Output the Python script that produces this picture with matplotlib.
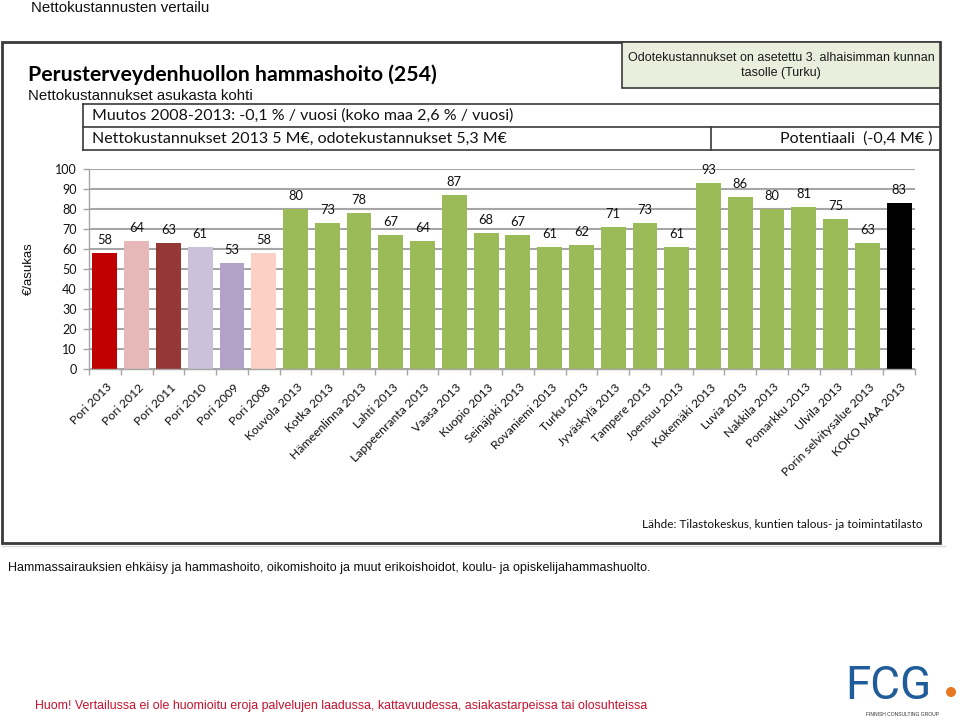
import matplotlib
matplotlib.use("Agg")
import matplotlib.pyplot as plt
from matplotlib.patches import Rectangle, Circle
from matplotlib.lines import Line2D

categories = ["Pori 2013", "Pori 2012", "Pori 2011", "Pori 2010", "Pori 2009", "Pori 2008",
              "Kouvola 2013", "Kotka 2013", "Hämeenlinna 2013", "Lahti 2013", "Lappeenranta 2013",
              "Vaasa 2013", "Kuopio 2013", "Seinäjoki 2013", "Rovaniemi 2013", "Turku 2013",
              "Jyväskylä 2013", "Tampere 2013", "Joensuu 2013", "Kokemäki 2013", "Luvia 2013",
              "Nakkila 2013", "Pomarkku 2013", "Ulvila 2013", "Porin selvitysalue 2013", "KOKO MAA 2013"]
values = [58, 64, 63, 61, 53, 58, 80, 73, 78, 67, 64, 87, 68, 67, 61, 62, 71, 73, 61, 93, 86,
          80, 81, 75, 63, 83]
colors = ["#C00000", "#E6B9B8", "#953735", "#CCC1DA", "#B3A2C7", "#FCD0C4"] + ["#9BBB59"] * 19 + ["#000000"]
yticks = [0, 10, 20, 30, 40, 50, 60, 70, 80, 90, 100]

W, H = 960, 720
fig = plt.figure(figsize=(W / 100, H / 100), dpi=100)

# overlay axes in pixel coordinates
ov = fig.add_axes([0, 0, 1, 1], zorder=0)
ov.set_xlim(0, W)
ov.set_ylim(H, 0)
ov.axis("off")

CAL = "Lato"
ARI = "Liberation Sans"

# outer frame
ov.add_patch(Rectangle((2, 42), 938, 501, fill=False, ec="#3A3A3A", lw=2))
# green note box
ov.add_patch(Rectangle((622, 42), 318, 46, fc="#EAEEDD", ec="#3A3A3A", lw=1.2))
ov.text(781, 58, "Odotekustannukset on asetettu 3. alhaisimman kunnan", ha="center", va="center",
        fontsize=9, family=ARI, color="#1a1a1a")
ov.text(781, 73, "tasolle (Turku)", ha="center", va="center", fontsize=9, family=ARI, color="#1a1a1a")

# info boxes
for y in (104, 127, 150):
    ov.add_line(Line2D([83, 940], [y, y], color="#3A3A3A", lw=1.2))
ov.add_line(Line2D([83, 83], [104, 150], color="#3A3A3A", lw=1.2))
ov.add_line(Line2D([711, 711], [127, 150], color="#3A3A3A", lw=1.2))

ov.text(31, 8, "Nettokustannusten vertailu", ha="left", va="center", fontsize=10.8, family=ARI, color="#111111")
ov.text(28, 75, "Perusterveydenhuollon hammashoito (254)", ha="left", va="center", fontsize=15.3,
        family=CAL, weight="bold", color="#000000")
ov.text(28, 96, "Nettokustannukset asukasta kohti", ha="left", va="center", fontsize=10.8, family=ARI,
        color="#111111")
ov.text(92, 116, "Muutos 2008-2013: -0,1 % / vuosi (koko maa 2,6 % / vuosi)", ha="left", va="center",
        fontsize=11.5, family=CAL, color="#111111")
ov.text(92, 139, "Nettokustannukset 2013 5 M€, odotekustannukset 5,3 M€", ha="left", va="center",
        fontsize=11.5, family=CAL, color="#111111")
ov.text(933, 139, "Potentiaali  (-0,4 M€ )", ha="right", va="center", fontsize=11.5, family=CAL,
        color="#111111")

ov.text(923, 524, "Lähde: Tilastokeskus, kuntien talous- ja toimintatilasto", ha="right", va="center",
        fontsize=8.5, family=CAL, color="#111111")
ov.add_line(Line2D([2, 945], [546, 546], color="#D8D8D8", lw=1))

ov.text(8, 568, "Hammassairauksien ehkäisy ja hammashoito, oikomishoito ja muut erikoishoidot, koulu- ja opiskelijahammashuolto.",
        ha="left", va="center", fontsize=9, family=ARI, color="#111111")
ov.text(35, 706, "Huom! Vertailussa ei ole huomioitu eroja palvelujen laadussa, kattavuudessa, asiakastarpeissa tai olosuhteissa",
        ha="left", va="center", fontsize=8.95, family=ARI, color="#C8102E")

# FCG logo
ov.text(845, 686, "FCG", ha="left", va="center", fontsize=33, family="Roboto", weight="normal",
        color="#1F5C99")
ov.add_patch(Circle((951, 692), 5, fc="#E87722", ec="none"))
ov.text(902, 714, "FINNISH CONSULTING GROUP", ha="center", va="center", fontsize=3.6, family=ARI,
        color="#333333")

# chart axes
left, right, top, bottom = 89, 915, 169, 369
ax = fig.add_axes([left / W, 1 - bottom / H, (right - left) / W, (bottom - top) / H], zorder=1)
ax.patch.set_alpha(0)
x = list(range(len(categories)))
bars = ax.bar(x, values, width=0.78, color=colors, zorder=2)
ax.set_xlim(-0.5, len(categories) - 0.5)
ax.set_ylim(0, 100)
ax.set_yticks(yticks)
ax.set_yticklabels([str(v) for v in yticks], fontsize=9, family=CAL, color="#111111")
ax.yaxis.grid(True, color="#A6A6A6", lw=1.5, zorder=0)
ax.set_axisbelow(True)
ax.tick_params(axis="y", length=4, color="#A6A6A6", width=1, pad=5)
ax.set_xticks([i - 0.5 for i in range(len(categories) + 1)])
ax.set_xticklabels([])
ax.tick_params(axis="x", length=4, color="#A6A6A6", width=1)
for s in ("top", "right"):
    ax.spines[s].set_visible(False)
for s in ("left", "bottom"):
    ax.spines[s].set_color("#A6A6A6")
    ax.spines[s].set_linewidth(1)

for i, (lab, v) in enumerate(zip(categories, values)):
    ax.annotate(str(v), (i, v), xytext=(0, 9.5), textcoords="offset points", ha="center",
                va="center", fontsize=9.3, family=CAL, color="#111111", zorder=3)
    ax.annotate(lab, (i, 0), xytext=(1, -9), textcoords="offset points", ha="right", va="top",
                rotation=45, rotation_mode="anchor", fontsize=8.8, family=CAL, color="#111111",
                annotation_clip=False)

ax.set_ylabel("€/asukas", fontsize=9.5, family=ARI, color="#111111", labelpad=14)

fig.savefig("out.png", dpi=100)
